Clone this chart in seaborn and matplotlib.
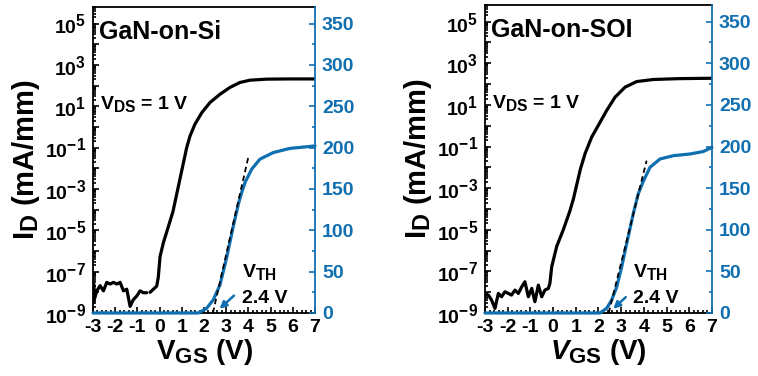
import numpy as np
import pandas as pd
import matplotlib
matplotlib.use('Agg')
import matplotlib.pyplot as plt
import matplotlib.ticker as mticker
import matplotlib._mathtext as mathtext_internal
import seaborn as sns

# ---- data ----
# GaN-on-Si: log10 of ID (mA/mm) vs VGS; seg splits the small gap near -0.5 V
si_log_v = [-3.0, -2.97, -2.93, -2.83, -2.68, -2.53, -2.38, -2.23, -2.08, -1.93, -1.78, -1.63,
            -1.48, -1.33, -1.18, -1.03, -0.88, -0.73, -0.58,
            -0.43, -0.28, -0.13, -0.06, 0.02, 0.17, 0.4, 0.6, 0.7, 0.92, 1.1, 1.22, 1.37,
            1.59, 1.9, 2.27, 2.72, 3.17, 3.62, 4.07, 4.82, 5.8, 7.0]
si_log_exp = [-8.5, -7.6, -8.3, -7.93, -7.68, -7.93, -7.52, -7.6, -7.52, -7.6, -7.52, -7.93,
              -7.85, -8.68, -8.35, -8.18, -7.93, -8.02, -8.02,
              -8.0, -7.85, -7.7, -7.27, -6.27, -5.6, -4.8, -4.1, -3.6, -2.5, -1.6, -1.0, -0.44,
              0.13, 0.69, 1.18, 1.58, 1.91, 2.15, 2.26, 2.31, 2.32, 2.32]
si_log_seg = [0] * 19 + [1] * 23
si_lin_v = [-3.0, 1.75, 2.12, 2.42, 2.72, 3.02, 3.32, 3.55, 3.7, 3.85, 4.15, 4.52, 5.12, 5.87, 7.0]
si_lin_id = [0, 0, 5.7, 16, 34, 67, 105, 132, 146, 158, 174, 186, 194, 199, 202]
si_fit_v = [2.4, 4.0]
si_fit_id = [0, 189]

# GaN-on-SOI
soi_log_v = [-3.0, -2.85, -2.71, -2.56, -2.41, -2.27, -2.12, -1.97, -1.83, -1.68, -1.53, -1.38,
             -1.24, -1.09, -0.94, -0.8, -0.65, -0.5, -0.36, -0.21, -0.14,
             -0.06, 0.16, 0.45, 0.74, 0.9, 1.05, 1.2, 1.41, 1.7, 1.99, 2.36, 2.73, 3.17, 3.68,
             4.41, 5.5, 7.0]
soi_log_exp = [-8.06, -8.14, -8.38, -8.78, -8.06, -8.22, -7.98, -8.06, -8.14, -7.9, -8.06, -7.74,
               -7.5, -8.22, -7.82, -8.46, -7.66, -8.22, -7.9, -7.82, -7.58,
               -6.78, -5.8, -5.0, -4.1, -3.5, -2.8, -2.1, -1.34, -0.55, 0.01, 0.73, 1.37, 1.85, 2.12,
               2.22, 2.26, 2.28]
soi_log_seg = [0] * 38
soi_lin_v = [-3.0, 2.07, 2.36, 2.58, 2.8, 3.02, 3.24, 3.53, 3.75, 3.97, 4.27, 4.71, 5.3, 6.03, 6.62, 7.0]
soi_lin_id = [0, 0, 5.6, 15.5, 31, 55, 83, 119, 143, 158, 175, 185, 189, 191, 194, 199]
soi_fit_v = [2.45, 4.12]
soi_fit_id = [0, 183]

panels = ['GaN-on-Si', 'GaN-on-SOI']
vth_label = '2.4 V'

BLUE = '#0f6fb0'

sns.set_style('ticks')
plt.rcParams['font.family'] = ['Liberation Sans', 'DejaVu Sans']
plt.rcParams['font.weight'] = 'bold'
plt.rcParams['text.color'] = 'black'
plt.rcParams['axes.labelcolor'] = 'black'
plt.rcParams['xtick.color'] = 'black'
plt.rcParams['ytick.color'] = 'black'
plt.rcParams['axes.unicode_minus'] = False
plt.rcParams['mathtext.fontset'] = 'custom'
plt.rcParams['mathtext.rm'] = 'Liberation Sans:bold'
plt.rcParams['mathtext.bf'] = 'Liberation Sans:bold'
plt.rcParams['mathtext.it'] = 'Liberation Sans:bold:italic'
plt.rcParams['mathtext.default'] = 'rm'
# subscripts in the figure are nearly full size
mathtext_internal.SHRINK_FACTOR = 0.8

fig = plt.figure(figsize=(7.58, 3.76), dpi=100)
rects = [[0.1227, 0.1676, 0.2929, 0.8138], [0.6398, 0.1676, 0.2995, 0.8191]]

data = [
    (si_log_v, si_log_exp, si_log_seg, si_lin_v, si_lin_id, si_fit_v, si_fit_id,
     (3.35, 21), (2.7, 5), (3.7, 44), (3.7, 12), r'$\mathrm{V_{GS}}$ (V)'),
    (soi_log_v, soi_log_exp, soi_log_seg, soi_lin_v, soi_lin_id, soi_fit_v, soi_fit_id,
     (3.2, 19), (2.65, 5), (3.5, 43), (3.5, 12), r'$\mathit{V}_{\mathrm{GS}}$ (V)'),
]

for rect, name, d in zip(rects, panels, data):
    lv, lexp, lseg, bv, bid, fv, fid, tail, head, vth_pos, val_pos, xlab = d
    ax = fig.add_axes(rect)
    ax2 = ax.twinx()

    log_df = pd.DataFrame({'v': lv, 'id': np.power(10.0, lexp), 'seg': lseg})
    sns.lineplot(data=log_df, x='v', y='id', units='seg', ax=ax, color='black', lw=2.3,
                 estimator=None, sort=False)
    ax.set_yscale('log')
    ax.set_xlim(-3, 7)
    ax.set_ylim(1e-9, 10 ** 5.8)

    lin_df = pd.DataFrame({'v': bv, 'id': bid})
    sns.lineplot(data=lin_df, x='v', y='id', ax=ax2, color=BLUE, lw=2.3,
                 estimator=None, sort=False, clip_on=False, zorder=3)
    fit_df = pd.DataFrame({'v': fv, 'id': fid})
    sns.lineplot(data=fit_df, x='v', y='id', ax=ax2, color='black', lw=1.3,
                 linestyle=(0, (3, 2)), estimator=None, zorder=4)
    ax2.set_ylim(0, 370)
    ax2.set_xlim(-3, 7)

    # ticks
    ax.xaxis.set_major_locator(mticker.MultipleLocator(1))
    ax.xaxis.set_minor_locator(mticker.MultipleLocator(0.2))
    ax.yaxis.set_major_locator(mticker.LogLocator(base=10, numticks=30))
    ax.yaxis.set_minor_locator(mticker.LogLocator(base=10, subs=np.arange(2, 10), numticks=100))
    ax.yaxis.set_minor_formatter(mticker.NullFormatter())

    def fmt(val, pos):
        e = int(round(np.log10(val)))
        return r'$10^{%d}$' % e if e % 2 else ''
    ax.yaxis.set_major_formatter(mticker.FuncFormatter(fmt))
    ax.tick_params(axis='both', which='both', direction='in', labelsize=14, width=1.2,
                   top=False, right=False, colors='black')
    ax.tick_params(which='major', length=4.5, pad=4)
    ax.tick_params(which='minor', length=2.5)
    ax.tick_params(axis='y', pad=5)

    ax2.yaxis.set_major_locator(mticker.MultipleLocator(50))
    ax2.yaxis.set_minor_locator(mticker.MultipleLocator(25))
    ax2.tick_params(axis='y', which='both', direction='in', colors=BLUE, labelsize=14,
                    width=1.2, pad=5)
    ax2.tick_params(axis='y', which='major', length=4.5)
    ax2.tick_params(axis='y', which='minor', length=2.5)
    ax2.set_ylabel('')
    ax.set_ylabel(r'$\mathrm{I_D}$ (mA/mm)', fontsize=21, fontweight='bold', labelpad=2)
    ax.set_xlabel(xlab, fontsize=20, fontweight='bold', labelpad=1)

    for s in ['left', 'top', 'bottom']:
        ax.spines[s].set_linewidth(1.3)
        ax.spines[s].set_color('black')
        ax2.spines[s].set_visible(False)
    ax.spines['right'].set_visible(False)
    ax2.spines['right'].set_color(BLUE)
    ax2.spines['right'].set_linewidth(1.3)

    ax.text(-2.75, 10 ** 4.25, name, fontsize=18, fontweight='bold')
    ax.text(-2.7, 10 ** 0.85, r'$\mathrm{V_{DS}}$ = 1 V', fontsize=14, fontweight='bold')
    ax2.text(vth_pos[0], vth_pos[1], r'$\mathrm{V_{TH}}$', fontsize=14, fontweight='bold')
    ax2.text(val_pos[0], val_pos[1], vth_label, fontsize=14, fontweight='bold')
    ax2.annotate('', xy=head, xytext=tail,
                 arrowprops=dict(arrowstyle='-|>', color=BLUE, lw=1.8,
                                 mutation_scale=10, shrinkA=0, shrinkB=0))

fig.savefig('out.png', dpi=100)
